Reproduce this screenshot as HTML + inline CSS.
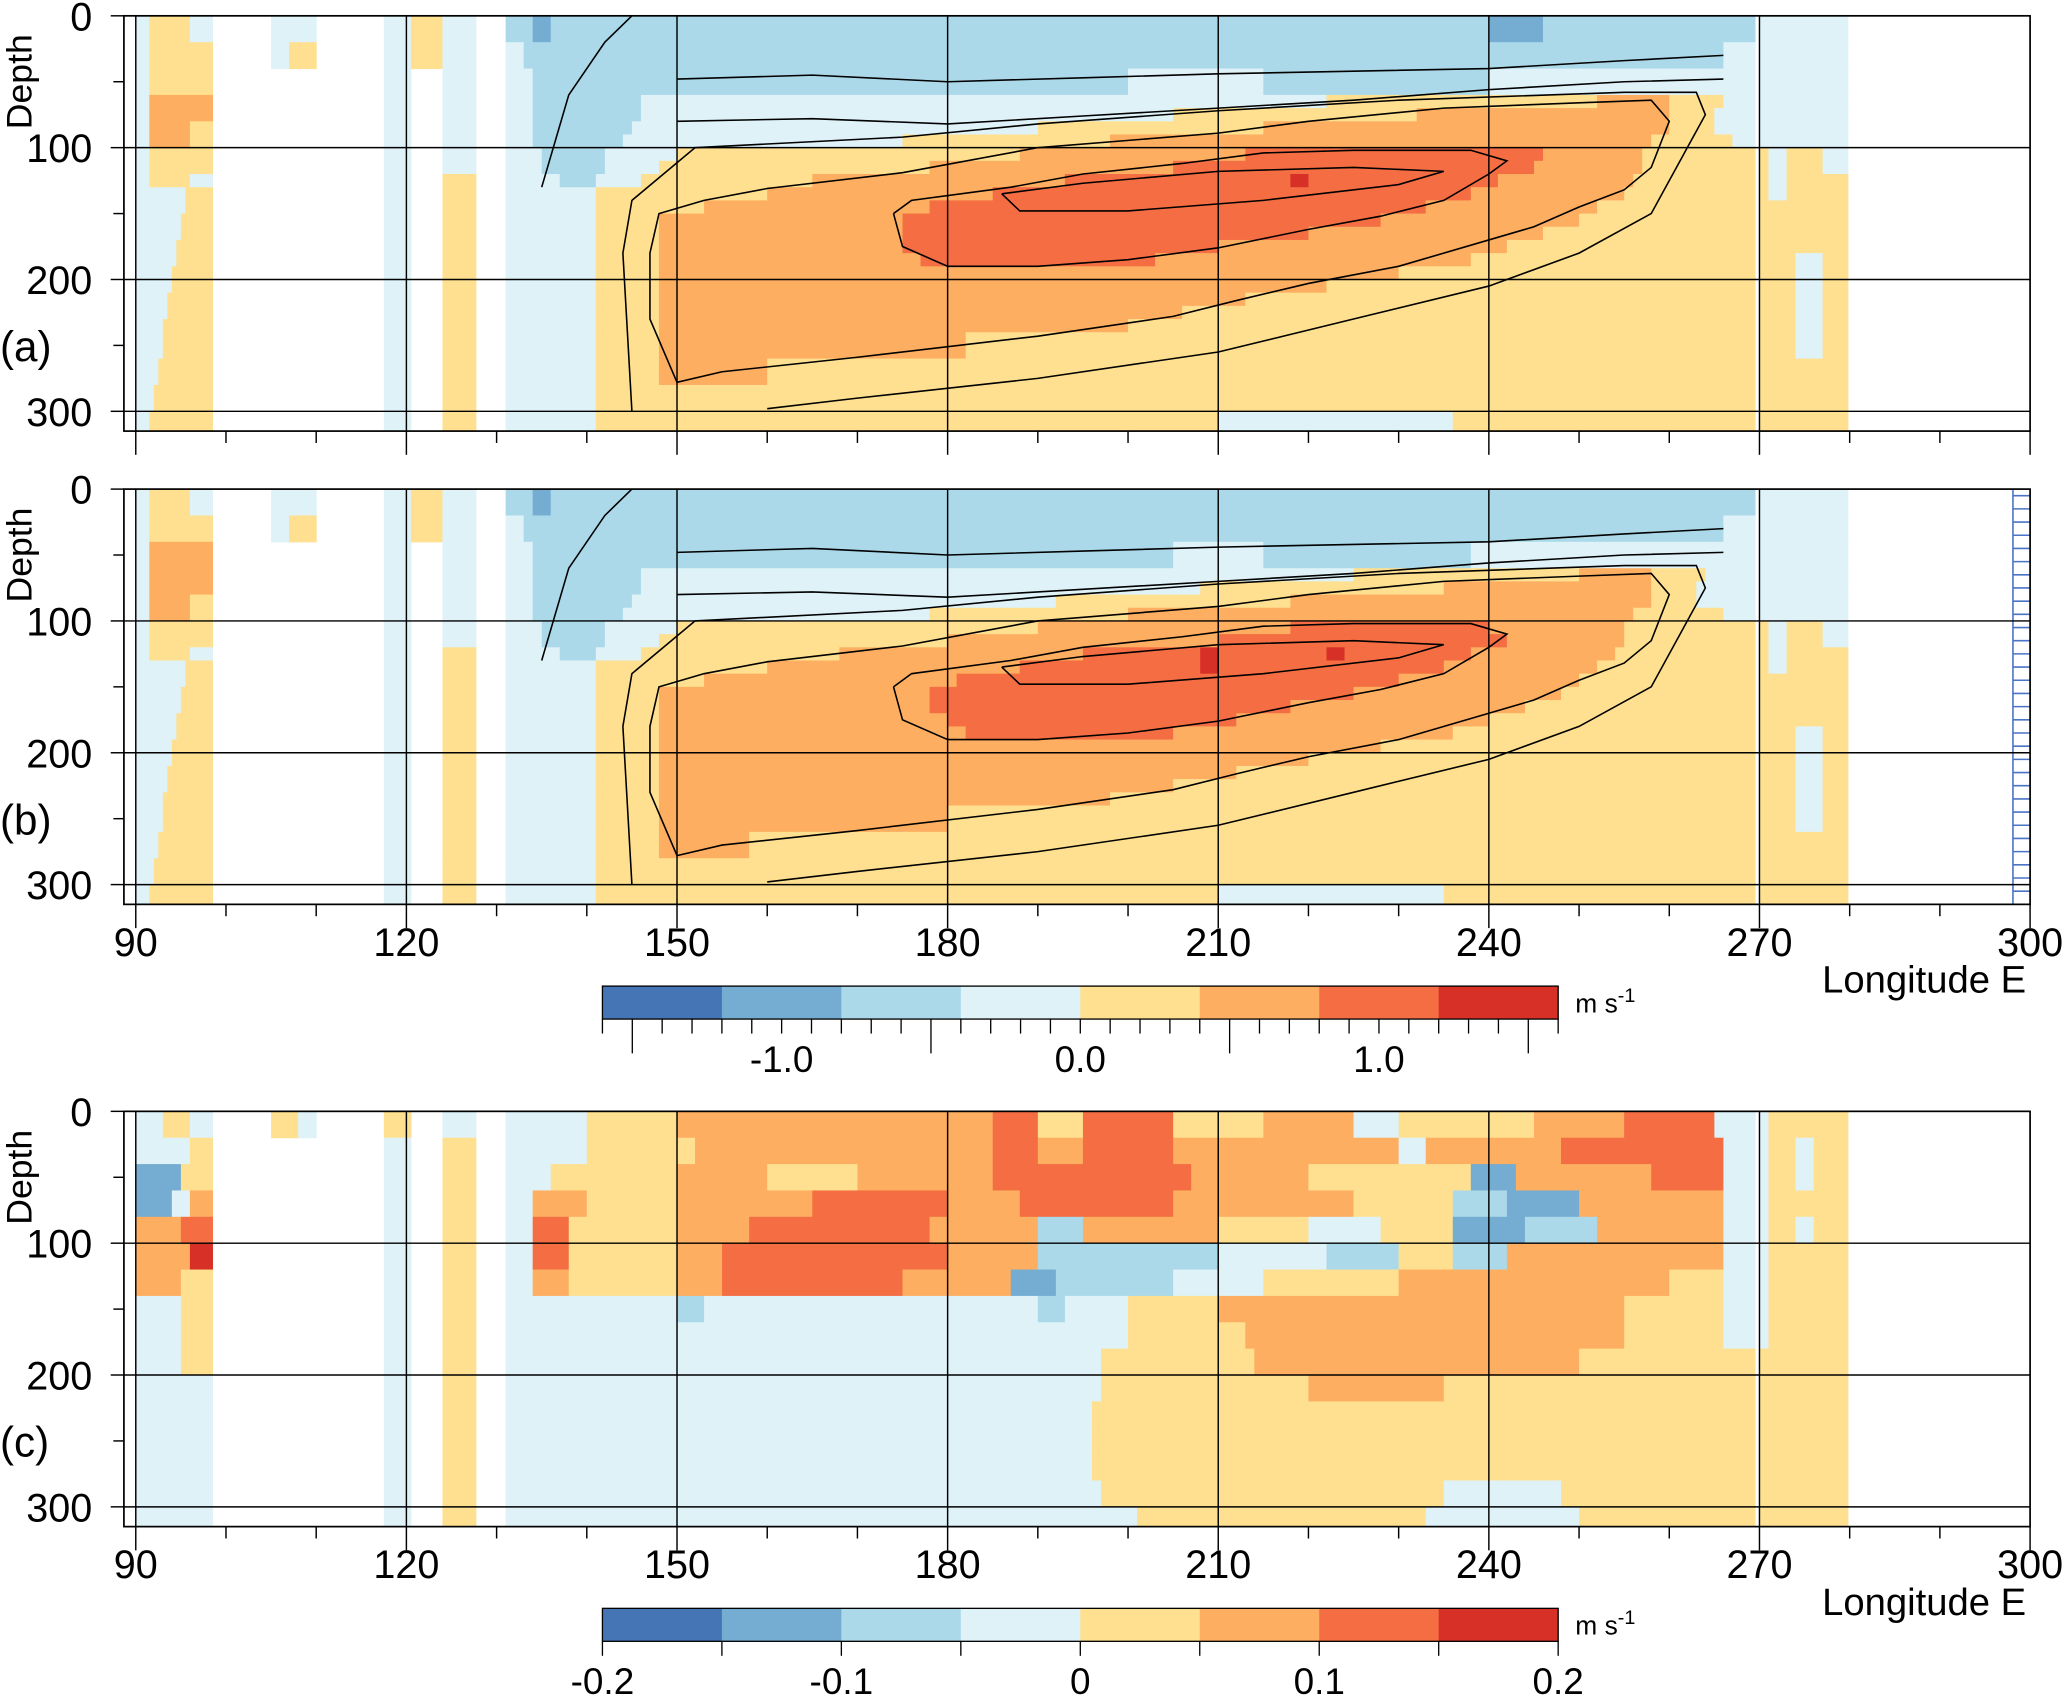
<!DOCTYPE html>
<html><head><meta charset="utf-8"><style>
html,body{margin:0;padding:0;background:#fff;}
svg{display:block;font-family:"Liberation Sans",Arial,sans-serif;}
</style></head><body>
<svg id="fig" width="2067" height="1698" viewBox="0 0 1568 1288" preserveAspectRatio="none" xmlns="http://www.w3.org/2000/svg"></svg>
<script>
// ---- data ----
const levelColors = ['#ffffff','#4575b4','#74add1','#abd9e9','#def2f8','#fee090','#fdae61','#f46d43','#d73027'];
const bandsAB = [0,20,40,60,70,80,90,100,110,120,130,140,150,160,170,180,190,200,210,220,230,240,260,280,300];
const bandsC = [0,20,40,60,80,100,120,140,160,180,200,220,240,260,280,300];
const panelA = [
"90 4 91.5 5 96 4 98.5 . 105 4 110 . 117.5 4 120.5 5 124 4 127.7 . 131 3 134 2 136 3 240 2 246 3 270 4",
"90 4 91.5 5 98.5 . 105 4 107 5 110 . 117.5 4 120.5 5 124 4 127.7 . 131 4 133 3 266 4",
"90 4 91.5 5 98.5 . 117.5 4 120.5 . 124 4 127.7 . 131 4 134 3 200 4 215 3 240 4",
"90 4 91.5 6 98.5 . 117.5 4 120.5 . 124 4 127.7 . 131 4 134 3 146 4 222 5 252 6 260 5 266 4",
"90 4 91.5 6 98.5 . 117.5 4 120.5 . 124 4 127.7 . 131 4 134 3 146 4 205 5 232 6 260 5 265 4",
"90 4 91.5 6 96 5 98.5 . 117.5 4 120.5 . 124 4 127.7 . 131 4 134 3 145 4 190 5 215 6 260 5 265 4",
"90 4 91.5 6 96 5 98.5 . 117.5 4 120.5 . 124 4 127.7 . 131 4 134 3 144 4 175 5 198 6 258 5 267 4",
"90 4 91.5 5 98.5 . 117.5 4 120.5 . 124 4 127.7 . 131 4 135 3 142 4 150 5 188 6 213 7 246 6 257 5 271 4 273 5 277 4",
"90 4 91.5 5 98.5 . 117.5 4 120.5 . 124 4 127.7 . 131 4 135 3 142 4 148 5 178 6 205 7 245 6 257 5 271 4 273 5 277 4",
"90 4 91.5 5 96 4 98.5 . 117.5 4 120.5 . 124 5 127.7 . 131 4 137 3 141 4 146 5 165 6 193 7 218 8 220 7 241 6 256 5 271 4 273 5",
"90 4 95.5 5 98.5 . 117.5 4 120.5 . 124 5 127.7 . 131 4 141 5 160 6 185 7 238 6 255 5 271 4 273 5",
"90 4 95.5 5 98.5 . 117.5 4 120.5 . 124 5 127.7 . 131 4 141 5 153 6 178 7 233 6 252 5",
"90 4 95 5 98.5 . 117.5 4 120.5 . 124 5 127.7 . 131 4 141 5 148 6 175 7 228 6 250 5",
"90 4 95 5 98.5 . 117.5 4 120.5 . 124 5 127.7 . 131 4 141 5 148 6 175 7 220 6 246 5",
"90 4 94.5 5 98.5 . 117.5 4 120.5 . 124 5 127.7 . 131 4 141 5 148 6 175 7 210 6 242 5",
"90 4 94.5 5 98.5 . 117.5 4 120.5 . 124 5 127.7 . 131 4 141 5 148 6 177 7 203 6 238 5 274 4 277 5",
"90 4 94 5 98.5 . 117.5 4 120.5 . 124 5 127.7 . 131 4 141 5 148 6 230 5 274 4 277 5",
"90 4 94 5 98.5 . 117.5 4 120.5 . 124 5 127.7 . 131 4 141 5 148 6 222 5 274 4 277 5",
"90 4 93.5 5 98.5 . 117.5 4 120.5 . 124 5 127.7 . 131 4 141 5 148 6 213 5 274 4 277 5",
"90 4 93.5 5 98.5 . 117.5 4 120.5 . 124 5 127.7 . 131 4 141 5 148 6 206 5 274 4 277 5",
"90 4 93 5 98.5 . 117.5 4 120.5 . 124 5 127.7 . 131 4 141 5 148 6 200 5 274 4 277 5",
"90 4 93 5 98.5 . 117.5 4 120.5 . 124 5 127.7 . 131 4 141 5 148 6 182 5 274 4 277 5",
"90 4 92.5 5 98.5 . 117.5 4 120.5 . 124 5 127.7 . 131 4 141 5 148 6 160 5",
"90 4 92 5 98.5 . 117.5 4 120.5 . 124 5 127.7 . 131 4 141 5",
"90 4 91.5 5 98.5 . 117.5 4 120.5 . 124 5 127.7 . 131 4 141 5 210 4 236 5"
];
const panelB = [
"90 4 91.5 5 96 4 98.5 . 105 4 110 . 117.5 4 120.5 5 124 4 127.7 . 131 3 134 2 136 3 270 4",
"90 4 91.5 5 98.5 . 105 4 107 5 110 . 117.5 4 120.5 5 124 4 127.7 . 131 4 133 3 266 4",
"90 4 91.5 6 98.5 . 117.5 4 120.5 . 124 4 127.7 . 131 4 134 3 205 4 215 3 238 4",
"90 4 91.5 6 98.5 . 117.5 4 120.5 . 124 4 127.7 . 131 4 134 3 146 4 225 5 250 6 258 5 264 4",
"90 4 91.5 6 98.5 . 117.5 4 120.5 . 124 4 127.7 . 131 4 134 3 146 4 208 5 235 6 258 5 263 4",
"90 4 91.5 6 96 5 98.5 . 117.5 4 120.5 . 124 4 127.7 . 131 4 134 3 145 4 192 5 218 6 258 5 263 4",
"90 4 91.5 6 96 5 98.5 . 117.5 4 120.5 . 124 4 127.7 . 131 4 134 3 144 4 178 5 200 6 256 5 266 4",
"90 4 91.5 5 98.5 . 117.5 4 120.5 . 124 4 127.7 . 131 4 135 3 142 4 150 5 190 6 218 7 240 6 255 5 271 4 273 5 277 4",
"90 4 91.5 5 98.5 . 117.5 4 120.5 . 124 4 127.7 . 131 4 135 3 142 4 148 5 180 6 210 7 242 6 255 5 271 4 273 5 277 4",
"90 4 91.5 5 96 4 98.5 . 117.5 4 120.5 . 124 5 127.7 . 131 4 137 3 141 4 146 5 168 6 195 7 208 8 210 7 222 8 224 7 238 6 254 5 271 4 273 5",
"90 4 95.5 5 98.5 . 117.5 4 120.5 . 124 5 127.7 . 131 4 141 5 160 6 188 7 208 8 210 7 235 6 252 5 271 4 273 5",
"90 4 95.5 5 98.5 . 117.5 4 120.5 . 124 5 127.7 . 131 4 141 5 153 6 181 7 230 6 250 5",
"90 4 95 5 98.5 . 117.5 4 120.5 . 124 5 127.7 . 131 4 141 5 148 6 178 7 225 6 248 5",
"90 4 95 5 98.5 . 117.5 4 120.5 . 124 5 127.7 . 131 4 141 5 148 6 178 7 218 6 244 5",
"90 4 94.5 5 98.5 . 117.5 4 120.5 . 124 5 127.7 . 131 4 141 5 148 6 180 7 212 6 240 5",
"90 4 94.5 5 98.5 . 117.5 4 120.5 . 124 5 127.7 . 131 4 141 5 148 6 182 7 205 6 236 5 274 4 277 5",
"90 4 94 5 98.5 . 117.5 4 120.5 . 124 5 127.7 . 131 4 141 5 148 6 228 5 274 4 277 5",
"90 4 94 5 98.5 . 117.5 4 120.5 . 124 5 127.7 . 131 4 141 5 148 6 220 5 274 4 277 5",
"90 4 93.5 5 98.5 . 117.5 4 120.5 . 124 5 127.7 . 131 4 141 5 148 6 212 5 274 4 277 5",
"90 4 93.5 5 98.5 . 117.5 4 120.5 . 124 5 127.7 . 131 4 141 5 148 6 205 5 274 4 277 5",
"90 4 93 5 98.5 . 117.5 4 120.5 . 124 5 127.7 . 131 4 141 5 148 6 198 5 274 4 277 5",
"90 4 93 5 98.5 . 117.5 4 120.5 . 124 5 127.7 . 131 4 141 5 148 6 180 5 274 4 277 5",
"90 4 92.5 5 98.5 . 117.5 4 120.5 . 124 5 127.7 . 131 4 141 5 148 6 158 5",
"90 4 92 5 98.5 . 117.5 4 120.5 . 124 5 127.7 . 131 4 141 5",
"90 4 91.5 5 98.5 . 117.5 4 120.5 . 124 5 127.7 . 131 4 141 5 210 4 235 5"
];
const panelC = [
"90 4 93 5 96 4 98.5 . 105 5 108 4 110 . 117.5 5 120.5 . 124 4 127.7 . 131 4 140 5 150 6 185 7 190 5 195 7 205 5 215 6 225 4 230 5 245 6 255 7 265 4 271 5",
"90 4 96 5 98.5 . 117.5 4 120.5 . 124 5 127.7 . 131 4 140 5 152 6 185 7 190 6 195 7 205 6 230 4 233 6 248 7 266 4 271 5 274 4 276 5",
"90 2 95 5 98.5 . 117.5 4 120.5 . 124 5 127.7 . 131 4 136 5 150 6 160 5 170 6 185 7 207 6 220 5 238 2 243 6 258 7 266 4 271 5 274 4 276 5",
"90 2 94 4 96 6 98.5 . 117.5 4 120.5 . 124 5 127.7 . 131 4 134 6 140 5 150 6 165 7 180 6 188 7 205 6 225 5 236 3 242 2 250 6 266 4 271 5",
"90 6 95 7 98.5 . 117.5 4 120.5 . 124 5 127.7 . 131 4 134 7 138 5 150 6 158 7 178 6 190 3 195 6 210 5 220 4 228 5 236 2 244 3 252 6 266 4 271 5 274 4 276 5",
"90 6 96 8 98.5 . 117.5 4 120.5 . 124 5 127.7 . 131 4 134 7 138 5 150 6 155 7 180 6 190 3 210 4 222 3 230 5 236 3 242 6 266 4 271 5",
"90 6 95 5 98.5 . 117.5 4 120.5 . 124 5 127.7 . 131 4 134 6 138 5 150 6 155 7 175 6 187 2 192 3 205 4 215 5 230 6 260 5 266 4 271 5",
"90 4 95 5 98.5 . 117.5 4 120.5 . 124 5 127.7 . 131 4 150 3 153 4 190 3 193 4 200 5 210 6 255 5 266 4 271 5",
"90 4 95 5 98.5 . 117.5 4 120.5 . 124 5 127.7 . 131 4 200 5 213 6 255 5 266 4 271 5",
"90 4 95 5 98.5 . 117.5 4 120.5 . 124 5 127.7 . 131 4 197 5 214 6 250 5",
"90 4 98.5 . 117.5 4 120.5 . 124 5 127.7 . 131 4 197 5 220 6 235 5",
"90 4 98.5 . 117.5 4 120.5 . 124 5 127.7 . 131 4 196 5",
"90 4 98.5 . 117.5 4 120.5 . 124 5 127.7 . 131 4 196 5",
"90 4 98.5 . 117.5 4 120.5 . 124 5 127.7 . 131 4 196 5",
"90 4 98.5 . 117.5 4 120.5 . 124 5 127.7 . 131 4 197 5 235 4 248 5",
"90 4 98.5 . 117.5 4 120.5 . 124 5 127.7 . 131 4 201 5 233 4 250 5"
];
// contour lines (lon, depth pairs)
const contourRedA = [[174,150],[176,140],[187,130],[195,120],[206,112],[215,104],[225,102],[238,102],[242,110],[240,120],[235,140],[228,152],[220,162],[210,176],[200,185],[190,190],[180,190],[175,175],[174,150]];
const contourInnerA = [[186,135],[195,127],[210,118],[225,115],[235,118],[230,128],[215,140],[200,148],[188,148],[186,135]];
const contourOrangeA = [[150,278],[147,230],[147,180],[148,150],[153,140],[160,131],[175,119],[190,100],[210,89],[220,80],[235,70],[250,66],[258,64],[260,80],[258,115],[255,132],[250,145],[245,160],[240,170],[230,190],[220,203],[212,216],[205,228],[190,243],[170,259],[155,270],[150,278]];
const contourYellowA = [[145,300],[144,180],[145,140],[152,100],[175,92],[190,82],[210,72],[230,64],[255,58],[263,58],[264,75],[262,100],[258,150],[250,180],[240,205],[225,230],[210,255],[190,275],[170,290],[160,298]];
const contourBlueA = [[150,48],[165,45],[180,50],[195,47],[210,44],[225,42],[240,40],[255,34],[266,30]];
const contourBlue2A = [[150,80],[165,78],[180,82],[195,76],[210,70],[225,64],[240,56],[255,50],[266,48]];
const contourBlue3A = [[135,130],[138,60],[142,20],[145,0]];
const lonTicks = [90,100,110,120,130,140,150,160,170,180,190,200,210,220,230,240,250,260,270,280,290,300];
const lonLabels = [90,120,150,180,210,240,270,300];
const depthLabels = [0,100,200,300];
const cbar1Labels = ['-1.0','0.0','1.0'];
const cbar1Values = [-1,0,1];
const cbar2Labels = ['-0.2','-0.1','0','0.1','0.2'];
const cbar2Values = [-0.2,-0.1,0,0.1,0.2];

// ---- layout ----
const NS='http://www.w3.org/2000/svg';
const svg=document.getElementById('fig');
const X0=94, X1=1540, LON_END=279.8, DMAX=315;
function xs(lon){return 103+(lon-90)*(1437/210);}
function mk(tag,attrs,parent){const e=document.createElementNS(NS,tag);for(const k in attrs)e.setAttribute(k,attrs[k]);(parent||svg).appendChild(e);return e;}

function drawPanel(top,rows,bands,contours,key,label,showLabels,blueTicks){
  const g=mk('g',{});
  
  
  rows.forEach((row,ri)=>{
    const t=row.trim().split(/\s+/);
    const d0=bands[ri], d1=Math.min(ri+1<bands.length?bands[ri+1]:DMAX,DMAX);
    for(let i=0;i<t.length;i+=2){
      const l0=parseFloat(t[i]); const lv=t[i+1];
      const l1=(i+2<t.length)?parseFloat(t[i+2]):LON_END;
      if(lv==='.')continue;
      const r=mk('rect',{x:xs(l0),y:top+d0,width:xs(l1)-xs(l0)+0.4,height:d1-d0+0.4,fill:levelColors[+lv]},g);
      
      
    }
  });
  mk('rect',{x:xs(270)-3,y:top,width:3,height:DMAX,fill:'#fff'},g);
  contours.forEach(c=>{
    const p=mk('polyline',{points:c.map(q=>xs(q[0])+','+(top+q[1])).join(' '),fill:'none',stroke:'#000','stroke-width':1.2},g);
    
    
  });
  if(blueTicks){
    const bt=mk('g',{stroke:'#4a74c4','stroke-width':1.2},g);
    
    
    mk('line',{x1:1527,y1:top,x2:1527,y2:top+DMAX},bt);
    for(let d=5;d<DMAX;d+=10) mk('line',{x1:1527,y1:top+d,x2:1540,y2:top+d},bt);
  }
  const grid=mk('g',{stroke:'#000','stroke-width':1.1},g);
  
  
  lonLabels.forEach(l=>{if(l<300)mk('line',{x1:xs(l),y1:top,x2:xs(l),y2:top+DMAX},grid);});
  [100,200,300].forEach(d=>mk('line',{x1:X0,y1:top+d,x2:X1,y2:top+d},grid));
  const fr=mk('rect',{x:X0,y:top,width:X1-X0,height:DMAX,fill:'none',stroke:'#000','stroke-width':1.3},g);
  
  
  [0,50,100,150,200,250,300].forEach(d=>mk('line',{x1:X0-(d%100===0?10:8),y1:top+d,x2:X0,y2:top+d,stroke:'#000','stroke-width':1.1},g));
  depthLabels.forEach(d=>{
    const tx=mk('text',{x:70,y:top+d+11,'font-size':30,'text-anchor':'end',fill:'#000'},g);
    tx.textContent=d;
    
    
  });
  const yt=mk('text',{x:0,y:0,'font-size':27,'text-anchor':'middle',transform:`translate(24,${top+50}) rotate(-90)`},g);
  yt.textContent='Depth';
  
  
  const pl=mk('text',{x:0,y:top+262,'font-size':32},g);
  pl.textContent=label;
  
  
  const b=top+DMAX;
  lonTicks.forEach(l=>{
    const major=lonLabels.includes(l);
    mk('line',{x1:xs(l),y1:b,x2:xs(l),y2:b+(major?18:9),stroke:'#000','stroke-width':1.1},g);
  });
  if(showLabels){
    lonLabels.forEach(l=>{
      const tx=mk('text',{x:xs(l),y:b+39,'font-size':30,'text-anchor':'middle'},g);
      tx.textContent=l;
      
      
    });
    const xt=mk('text',{x:1537,y:b+67,'font-size':29,'text-anchor':'end'},g);
    xt.textContent='Longitude E';
    
    
  }
}

function drawColorbar(y,vmin,vmax,minorStep,labels,values,key,longTicks){
  const g=mk('g',{});
  
  
  const x0=457,x1=1182,h=25;
  const cx=v=>x0+(v-vmin)/(vmax-vmin)*(x1-x0);
  for(let i=0;i<8;i++){
    const s=mk('rect',{x:x0+i*(x1-x0)/8,y:y,width:(x1-x0)/8+0.3,height:h,fill:levelColors[i+1]},g);
    
    
  }
  mk('rect',{x:x0,y:y,width:x1-x0,height:h,fill:'none',stroke:'#000','stroke-width':1},g);
  const n=Math.round((vmax-vmin)/minorStep);
  for(let i=0;i<=n;i++){
    const v=vmin+i*minorStep;
    let len=11;
    if(longTicks.some(t=>Math.abs(t-v)<1e-6))len=26;
    mk('line',{x1:cx(v),y1:y+h,x2:cx(v),y2:y+h+len,stroke:'#000','stroke-width':1},g);
  }
  labels.forEach((lb,i)=>{
    const tx=mk('text',{x:cx(values[i]),y:y+h+40,'font-size':28,'text-anchor':'middle'},g);
    tx.textContent=lb;
    
    
  });
  const u=mk('text',{x:x1+13,y:y+20,'font-size':20},g);
  u.innerHTML='m s<tspan dy="-8" font-size="15">-1</tspan>';
  
  
}

const contoursA=[contourRedA,contourInnerA,contourOrangeA,contourYellowA,contourBlueA,contourBlue2A,contourBlue3A];
drawPanel(12,panelA,bandsAB,contoursA,'a','(a)',false,false);
drawPanel(371,panelB,bandsAB,contoursA,'b','(b)',true,true);
drawPanel(843,panelC,bandsC,[],'c','(c)',true,false);
drawColorbar(748,-1.6,1.6,0.1,cbar1Labels,cbar1Values,'top',[-1.5,-0.5,0.5,1.5]);
drawColorbar(1220,-0.2,0.2,0.05,cbar2Labels,cbar2Values,'bottom',[]);
</script>
</body></html>
